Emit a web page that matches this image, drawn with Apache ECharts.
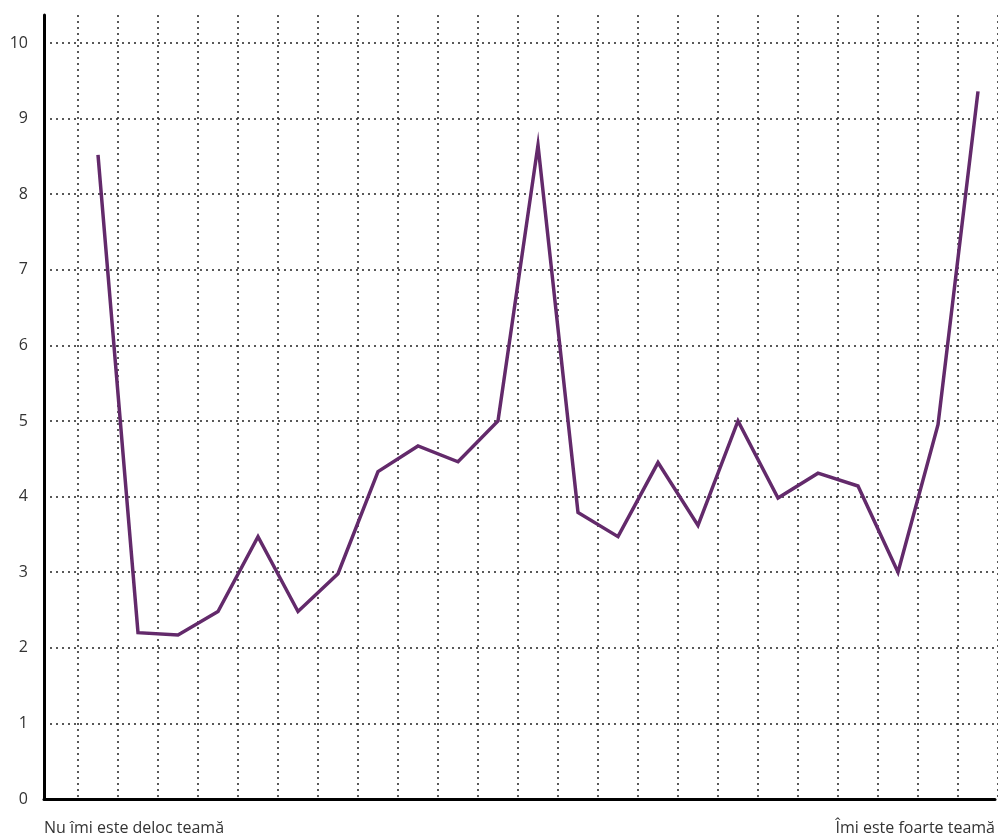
<!DOCTYPE html>
<html>
<head>
<meta charset="utf-8">
<script src="https://cdn.jsdelivr.net/npm/echarts@6/dist/echarts.min.js"></script>
<style>
  html, body { margin: 0; padding: 0; background: #ffffff; }
  #chart { width: 998px; height: 836px; }
</style>
</head>
<body>
<div id="chart"></div>
<script>
// Scale end labels
const axisEnds = ['Nu îmi este deloc teamă', 'Îmi este foarte teamă'];
// 23 scale points
const categories = ['1','2','3','4','5','6','7','8','9','10','11','12','13','14','15','16','17','18','19','20','21','22','23'];
// Series values
const values = [8.52, 2.2, 2.17, 2.48, 3.47, 2.48, 2.98, 4.33, 4.67, 4.46, 5.0, 8.65, 3.79, 3.47, 4.45, 3.62, 5.0, 3.98, 4.31, 4.14, 3.0, 4.95, 9.36];
// Y tick settings
const yMin = 0, yMax = 10.37, yStep = 1;

const dotted = { color: '#222222', width: 1.5, type: [2, 4] };
const chart = echarts.init(document.getElementById('chart'), null, { renderer: 'canvas' });
chart.setOption({
  animation: false,
  backgroundColor: '#ffffff',
  grid: [
    { left: 44, right: 0, top: 15, bottom: 37 },
    { left: 78, right: 0, top: 15, bottom: 37 }
  ],
  xAxis: [
    {
      gridIndex: 0, type: 'category', data: axisEnds, boundaryGap: false,
      axisLine: { show: true, lineStyle: { color: '#000000', width: 3 } },
      axisTick: { show: false },
      axisLabel: {
        show: true, interval: 0, margin: 21, fontSize: 16, color: '#333333',
        fontFamily: 'Open Sans', alignMinLabel: 'left', alignMaxLabel: 'right'
      },
      splitLine: { show: false }
    },
    {
      gridIndex: 1, type: 'category', data: categories, boundaryGap: true,
      axisLine: { show: false }, axisTick: { show: false }, axisLabel: { show: false },
      splitLine: { show: true, interval: 0, showMinLine: true, showMaxLine: true, lineStyle: dotted }
    }
  ],
  yAxis: [
    {
      gridIndex: 0, type: 'value', min: yMin, max: yMax, interval: yStep,
      axisLine: { show: true, lineStyle: { color: '#000000', width: 3 } },
      axisTick: { show: false },
      axisLabel: {
        margin: 16, fontSize: 16, color: '#333333', fontFamily: 'Open Sans',
        padding: [4, 0, 0, 0],
        showMaxLabel: false,
        formatter: v => (Math.abs(v - Math.round(v)) < 1e-6 ? String(Math.round(v)) : '')
      },
      splitLine: { show: true, showMinLine: false, showMaxLine: false, lineStyle: dotted }
    },
    {
      gridIndex: 1, type: 'value', min: yMin, max: yMax, interval: yStep,
      axisLine: { show: false }, axisTick: { show: false }, axisLabel: { show: false },
      splitLine: { show: false }
    }
  ],
  series: [
    {
      type: 'line', xAxisIndex: 1, yAxisIndex: 1, data: values,
      symbol: 'none', smooth: false,
      lineStyle: { color: '#632a6b', width: 3.5, join: 'miter' }
    }
  ]
});
</script>
</body>
</html>
